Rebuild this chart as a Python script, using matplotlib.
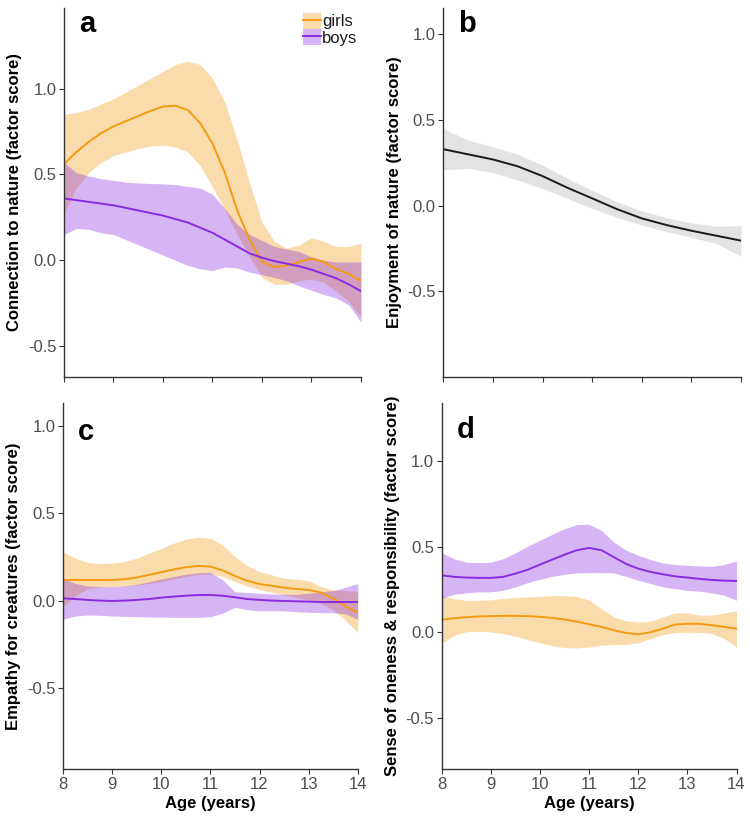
import numpy as np
import matplotlib
matplotlib.use("Agg")
import matplotlib.pyplot as plt
from matplotlib.patches import Patch
from matplotlib.lines import Line2D

plt.rcParams['font.family'] = ['Liberation Sans', 'DejaVu Sans']
plt.rcParams['axes.unicode_minus'] = False

# ages, quarter-year steps (panels a, c, d) and half-year steps (panel b)
age_q = np.arange(8, 14.01, 0.25)
age_h = np.arange(8, 14.01, 0.5)

# ---- panel a: connection to nature
a_girls = [0.56, 0.63, 0.69, 0.74, 0.78, 0.81, 0.84, 0.87, 0.895, 0.90, 0.875, 0.80, 0.68,
           0.51, 0.29, 0.12, -0.01, -0.04, -0.03, -0.01, 0.01, -0.01, -0.05, -0.08, -0.12]
a_girls_hi = [0.85, 0.86, 0.88, 0.91, 0.94, 0.98, 1.02, 1.06, 1.10, 1.14, 1.16, 1.14, 1.06,
              0.92, 0.70, 0.45, 0.22, 0.11, 0.07, 0.09, 0.13, 0.11, 0.08, 0.08, 0.10]
a_girls_lo = [0.27, 0.42, 0.51, 0.57, 0.61, 0.63, 0.65, 0.665, 0.67, 0.66, 0.63, 0.55, 0.43,
              0.29, 0.15, 0.02, -0.10, -0.14, -0.14, -0.12, -0.11, -0.13, -0.18, -0.24, -0.33]
a_boys = [0.36, 0.35, 0.34, 0.33, 0.32, 0.305, 0.29, 0.275, 0.26, 0.24, 0.22, 0.19, 0.16,
          0.12, 0.08, 0.04, 0.015, -0.005, -0.02, -0.035, -0.055, -0.08, -0.105, -0.14, -0.18]
a_boys_hi = [0.57, 0.51, 0.49, 0.475, 0.465, 0.455, 0.45, 0.447, 0.445, 0.44, 0.43, 0.42, 0.385,
             0.30, 0.21, 0.15, 0.115, 0.08, 0.065, 0.05, 0.02, 0.0, -0.01, -0.01, -0.01]
a_boys_lo = [0.15, 0.185, 0.18, 0.16, 0.15, 0.12, 0.09, 0.06, 0.03, 0.0, -0.03, -0.05, -0.06,
             -0.04, -0.045, -0.07, -0.085, -0.10, -0.12, -0.15, -0.175, -0.20, -0.22, -0.26, -0.36]

# ---- panel b: enjoyment of nature (all children)
b_all = [0.33, 0.30, 0.27, 0.23, 0.173, 0.105, 0.043, -0.02, -0.074, -0.113, -0.146, -0.175, -0.204]
b_hi = [0.45, 0.383, 0.344, 0.30, 0.237, 0.16, 0.09, 0.023, -0.03, -0.07, -0.10, -0.12, -0.117]
b_lo = [0.21, 0.218, 0.193, 0.15, 0.10, 0.043, -0.016, -0.068, -0.113, -0.152, -0.185, -0.22, -0.294]

# ---- panel c: empathy for creatures
c_girls = [0.12, 0.12, 0.12, 0.12, 0.12, 0.124, 0.134, 0.149, 0.164, 0.18, 0.193, 0.20, 0.197,
           0.174, 0.143, 0.115, 0.097, 0.086, 0.076, 0.069, 0.063, 0.048, 0.015, -0.029, -0.067]
c_girls_hi = [0.28, 0.244, 0.22, 0.214, 0.216, 0.225, 0.244, 0.273, 0.30, 0.33, 0.353, 0.364, 0.359,
              0.32, 0.254, 0.20, 0.168, 0.149, 0.13, 0.124, 0.116, 0.082, 0.063, 0.059, 0.055]
c_girls_lo = [-0.035, 0.03, 0.07, 0.08, 0.082, 0.085, 0.09, 0.10, 0.11, 0.125, 0.14, 0.15, 0.155,
              0.14, 0.11, 0.085, 0.065, 0.05, 0.035, 0.02, 0.005, -0.015, -0.05, -0.11, -0.18]
c_boys = [0.015, 0.011, 0.006, 0.002, 0.0, 0.002, 0.006, 0.011, 0.019, 0.025, 0.03, 0.034, 0.034,
          0.03, 0.021, 0.011, 0.006, 0.002, 0.0, -0.002, -0.004, -0.006, -0.006, -0.006, -0.006]
c_boys_hi = [0.13, 0.10, 0.086, 0.082, 0.082, 0.086, 0.095, 0.11, 0.126, 0.139, 0.153, 0.162, 0.164,
             0.12, 0.053, 0.048, 0.044, 0.04, 0.038, 0.038, 0.044, 0.053, 0.059, 0.078, 0.10]
c_boys_lo = [-0.105, -0.086, -0.08, -0.082, -0.086, -0.088, -0.09, -0.092, -0.092, -0.094, -0.094,
             -0.094, -0.09, -0.07, -0.036, -0.05, -0.057, -0.055, -0.057, -0.061, -0.065, -0.067,
             -0.067, -0.074, -0.105]

# ---- panel d: sense of oneness & responsibility
d_girls = [0.074, 0.082, 0.088, 0.092, 0.094, 0.096, 0.096, 0.094, 0.09, 0.084, 0.074, 0.062, 0.047,
           0.031, 0.012, -0.004, -0.012, 0.0, 0.021, 0.045, 0.05, 0.049, 0.041, 0.031, 0.021]
d_girls_hi = [0.21, 0.197, 0.187, 0.187, 0.19, 0.197, 0.203, 0.207, 0.21, 0.214, 0.214, 0.21, 0.187,
              0.138, 0.09, 0.066, 0.06, 0.064, 0.09, 0.113, 0.113, 0.10, 0.10, 0.113, 0.125]
d_girls_lo = [-0.066, -0.018, 0.002, 0.006, 0.002, -0.008, -0.023, -0.043, -0.062, -0.078, -0.09,
              -0.092, -0.086, -0.076, -0.072, -0.072, -0.062, -0.037, -0.014, -0.002, 0.0, -0.002,
              -0.008, -0.037, -0.086]
d_boys = [0.333, 0.324, 0.32, 0.318, 0.318, 0.324, 0.343, 0.366, 0.396, 0.425, 0.454, 0.48, 0.493,
          0.48, 0.44, 0.40, 0.372, 0.353, 0.339, 0.327, 0.32, 0.312, 0.306, 0.302, 0.30]
d_boys_hi = [0.466, 0.43, 0.41, 0.407, 0.41, 0.43, 0.464, 0.503, 0.538, 0.573, 0.606, 0.63, 0.632,
             0.596, 0.528, 0.48, 0.45, 0.425, 0.405, 0.396, 0.392, 0.388, 0.386, 0.396, 0.417]
d_boys_lo = [0.197, 0.222, 0.23, 0.236, 0.236, 0.245, 0.265, 0.29, 0.31, 0.327, 0.339, 0.347, 0.349,
             0.349, 0.347, 0.327, 0.304, 0.285, 0.265, 0.255, 0.245, 0.24, 0.23, 0.216, 0.187]

ylabels = ["Connection to nature (factor score)", "Enjoyment of nature (factor score)",
           "Empathy for creatures (factor score)", "Sense of oneness & responsibility (factor score)"]
letters = ["a", "b", "c", "d"]
yticks = [-0.5, 0.0, 0.5, 1.0]
ytick_labels = ["-0.5", "0.0", "0.5", "1.0"]
xticks = [8, 9, 10, 11, 12, 13, 14]

orange = "#F39C12"
purple = "#8A2BE2"
alpha = 0.35

fig = plt.figure(figsize=(7.5, 8.22), dpi=100)
pos = [[0.0853, 0.5414, 0.396, 0.449], [0.591, 0.5414, 0.397, 0.449],
       [0.084, 0.0645, 0.393, 0.445], [0.589, 0.0645, 0.393, 0.445]]
ylims = [(-0.68, 1.47), (-1.0, 1.155), (-0.96, 1.13), (-0.80, 1.34)]
letter_y = [0.935, 0.935, 0.90, 0.905]
axes = [fig.add_axes(p) for p in pos]


def pair(ax, x, g, glo, ghi, b, blo, bhi):
    ax.fill_between(x, glo, ghi, color=orange, alpha=alpha, lw=0)
    ax.plot(x, g, color=orange, lw=1.4)
    ax.fill_between(x, blo, bhi, color=purple, alpha=alpha, lw=0)
    ax.plot(x, b, color=purple, lw=1.4)


pair(axes[0], age_q, a_girls, a_girls_lo, a_girls_hi, a_boys, a_boys_lo, a_boys_hi)
axes[1].fill_between(age_h, b_lo, b_hi, color="#E3E3E3", lw=0)
axes[1].plot(age_h, b_all, color="#1a1a1a", lw=1.4)
pair(axes[2], age_q, c_girls, c_girls_lo, c_girls_hi, c_boys, c_boys_lo, c_boys_hi)
pair(axes[3], age_q, d_girls, d_girls_lo, d_girls_hi, d_boys, d_boys_lo, d_boys_hi)

for i, ax in enumerate(axes):
    ax.set_xlim(8, 14)
    ax.set_ylim(*ylims[i])
    ax.set_xticks(xticks)
    ax.set_yticks(yticks)
    ax.set_yticklabels(ytick_labels)
    for s in ["top", "right"]:
        ax.spines[s].set_visible(False)
    for s in ["left", "bottom"]:
        ax.spines[s].set_color("#333333")
        ax.spines[s].set_linewidth(1.0)
    ax.tick_params(colors="#333333", labelcolor="#4D4D4D", labelsize=12,
                   length=3.5, width=0.8, pad=2)
    ax.set_ylabel(ylabels[i], fontsize=12, fontweight="bold", labelpad=4)
    if i < 2:
        ax.set_xticklabels([])
    else:
        ax.set_xlabel("Age (years)", fontsize=12, fontweight="bold", labelpad=3)
    ax.text(0.05, letter_y[i], letters[i], transform=ax.transAxes,
            fontsize=21, fontweight="bold", va="baseline", ha="left")

handles = [(Patch(facecolor=orange, alpha=alpha, lw=0), Line2D([], [], color=orange, lw=1.4)),
           (Patch(facecolor=purple, alpha=alpha, lw=0), Line2D([], [], color=purple, lw=1.4))]
axes[0].legend(handles, ["girls", "boys"], loc="upper left", bbox_to_anchor=(0.805, 0.987),
               frameon=False, fontsize=12, handlelength=1.08, handleheight=1.1,
               handletextpad=0.05, labelspacing=0.0, borderaxespad=0.0, borderpad=0.0,
               labelcolor="#1a1a1a")

fig.savefig("out.png", dpi=100)
